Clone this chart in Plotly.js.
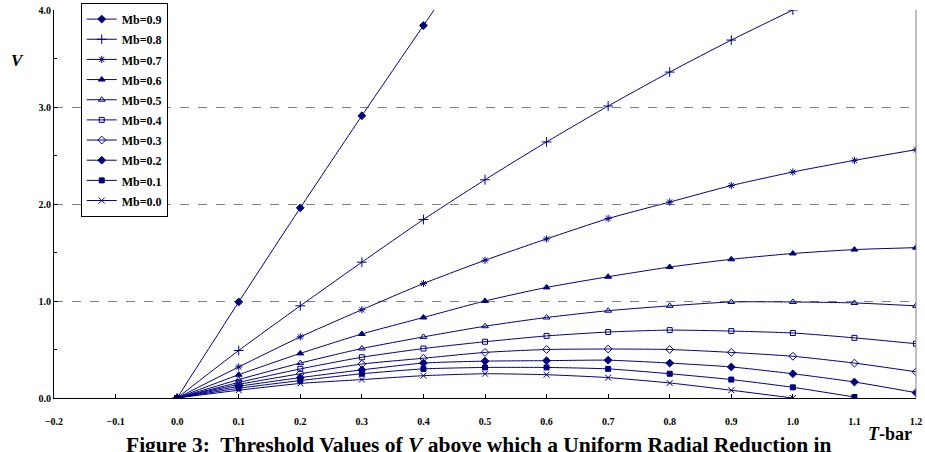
<!DOCTYPE html>
<html>
<head>
<meta charset="utf-8">
<script src="https://cdn.plot.ly/plotly-3.0.1.min.js"></script>
<style>html,body{margin:0;padding:0;background:#fff;}#chart{width:925px;height:452px;}</style>
</head>
<body>
<div id="chart"></div>
<script>
var tbar = [0, 0.1, 0.2, 0.3, 0.4, 0.5, 0.6, 0.7, 0.8, 0.9, 1.0, 1.1, 1.2];
var seriesNames = ["Mb=0.9","Mb=0.8","Mb=0.7","Mb=0.6","Mb=0.5","Mb=0.4","Mb=0.3","Mb=0.2","Mb=0.1","Mb=0.0"];
var mb09 = [0, 0.99, 1.96, 2.91, 3.84, 4.77];
var mb08 = [0, 0.49, 0.95, 1.40, 1.84, 2.25, 2.64, 3.01, 3.36, 3.69, 4.00];
var mb07 = [0, 0.32, 0.63, 0.91, 1.18, 1.42, 1.64, 1.85, 2.02, 2.19, 2.33, 2.45, 2.56];
var mb06 = [0, 0.24, 0.46, 0.66, 0.83, 1.00, 1.14, 1.25, 1.35, 1.43, 1.49, 1.53, 1.55];
var mb05 = [0, 0.19, 0.36, 0.51, 0.63, 0.74, 0.83, 0.90, 0.95, 0.99, 0.99, 0.98, 0.95];
var mb04 = [0, 0.16, 0.30, 0.42, 0.51, 0.58, 0.64, 0.68, 0.70, 0.69, 0.67, 0.62, 0.56];
var mb03 = [0, 0.14, 0.25, 0.35, 0.41, 0.47, 0.50, 0.505, 0.50, 0.47, 0.43, 0.36, 0.27];
var mb02 = [0, 0.12, 0.21, 0.29, 0.36, 0.38, 0.385, 0.39, 0.36, 0.32, 0.25, 0.165, 0.055];
var mb01 = [0, 0.10, 0.18, 0.25, 0.30, 0.315, 0.315, 0.30, 0.25, 0.19, 0.11, 0.01];
var mb00 = [0, 0.08, 0.15, 0.19, 0.23, 0.25, 0.24, 0.21, 0.155, 0.08, 0.0];

var seriesValues = [mb09, mb08, mb07, mb06, mb05, mb04, mb03, mb02, mb01, mb00];
var symbols = ["diamond","cross-thin-open","asterisk-open","triangle-up","triangle-up-open","square-open","diamond-open","diamond","square","x-thin-open"];
var sizes = [6, 7, 6, 6, 6, 5, 6, 6, 5, 6];
var navy = "#000080";

var traces = seriesValues.map(function (vals, i) {
  return {
    type: "scatter",
    mode: "lines+markers",
    name: "<span style='font-size:12px'>" + seriesNames[i] + "</span>",
    x: tbar.slice(0, vals.length),
    y: vals,
    line: {color: navy, width: 1, shape: "spline", smoothing: 0.6},
    marker: {symbol: symbols[i], size: sizes[i], color: navy, line: {color: navy, width: 1}},
    cliponaxis: true
  };
});

var serif = "'Liberation Serif', 'Times New Roman', serif";
var layout = {
  width: 925, height: 452,
  margin: {l: 54, r: 9, t: 10, b: 54, autoexpand: false},
  paper_bgcolor: "#fff", plot_bgcolor: "#fff",
  showlegend: true,
  legend: {
    x: 0.031, y: 1.018, xanchor: "left", yanchor: "top",
    bgcolor: "#fff", bordercolor: "#000", borderwidth: 1,
    font: {family: serif, size: 13.2, color: "#000", weight: "bold"},
    tracegroupgap: 0
  },
  xaxis: {
    range: [-0.2, 1.2], dtick: 0.1, tick0: 0, tickformat: ".1f",
    showgrid: false, zeroline: false,
    showline: true, linecolor: "#000", linewidth: 1,
    ticks: "inside", ticklen: 4, tickcolor: "#000",
    ticklabelstandoff: 14,
    tickfont: {family: serif, size: 10, color: "#000", weight: "bold"}
  },
  yaxis: {
    range: [0, 4.0], dtick: 1, tick0: 0, tickformat: ".1f",
    showgrid: true, gridcolor: "#808080", griddash: "dash", gridwidth: 1,
    zeroline: false,
    showline: true, linecolor: "#000", linewidth: 1,
    ticks: "inside", ticklen: 4, tickcolor: "#000",
    minor: {dtick: 0.5, ticks: "inside", ticklen: 3, tickcolor: "#000", showgrid: false},
    tickfont: {family: serif, size: 10, color: "#000", weight: "bold"}
  },
  shapes: [
    {type: "line", xref: "paper", yref: "paper", x0: 1, x1: 1, y0: 0, y1: 1, line: {color: "#808080", width: 1}}
  ],
  annotations: [
    {text: "<i>V</i>", xref: "paper", yref: "paper", x: -0.0418, y: 0.871, showarrow: false,
     xanchor: "center", yanchor: "middle", font: {family: serif, size: 17, color: "#000", weight: "bold"}},
    {text: "<i>T</i>-bar", xref: "paper", yref: "paper", x: 0.970, y: -0.0915, showarrow: false,
     xanchor: "center", yanchor: "middle", font: {family: serif, size: 18, color: "#000", weight: "bold"}},
    {text: "Figure 3:  Threshold Values of <i>V</i> above which a Uniform Radial Reduction in", xref: "paper", yref: "paper",
     x: 0.492, y: -0.1224, showarrow: false, xanchor: "center", yanchor: "middle",
     font: {family: serif, size: 21.5, color: "#000", weight: "bold"}}
  ]
};

Plotly.newPlot("chart", traces, layout, {displayModeBar: false, staticPlot: true});
</script>
</body>
</html>
